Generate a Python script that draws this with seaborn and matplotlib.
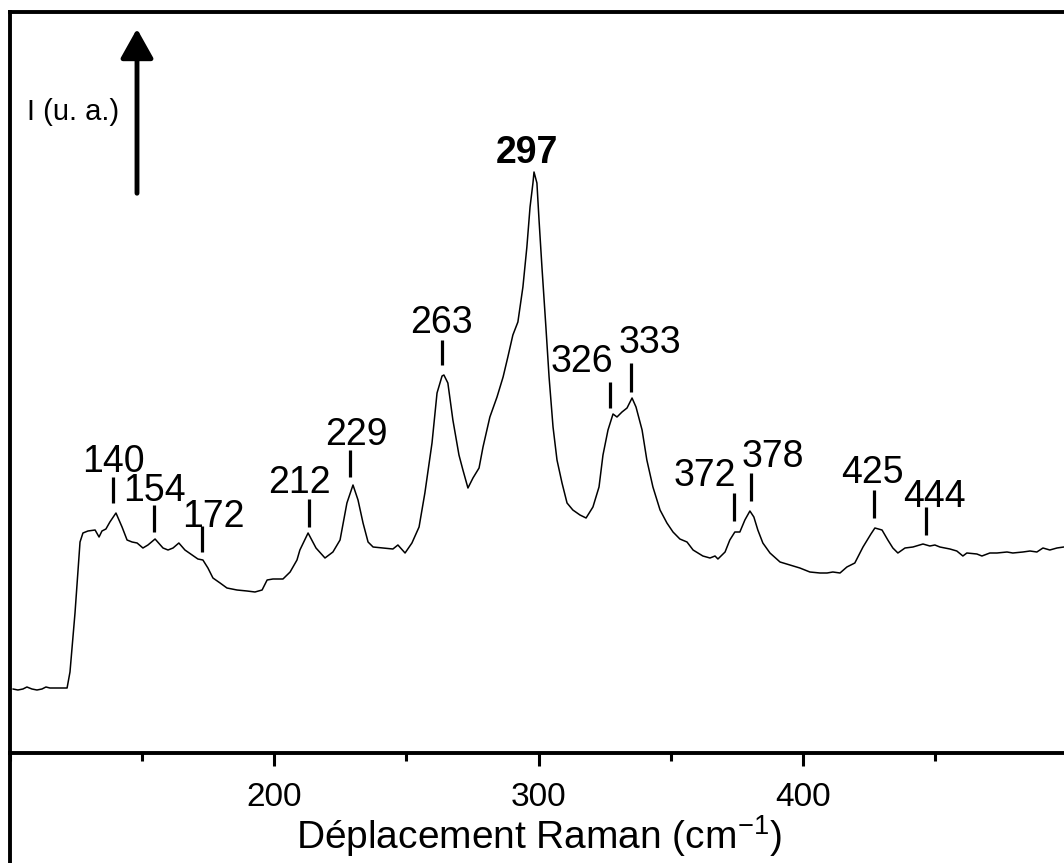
import numpy as np
import pandas as pd
import seaborn as sns
import matplotlib.pyplot as plt
from matplotlib.lines import Line2D

# Raman spectrum (wavenumber in cm-1, intensity in arbitrary units)
wavenumber = [101.1, 103.0, 104.9, 106.4, 108.3, 110.2, 112.1, 113.6, 115.1, 118.2,
              121.6, 122.7, 124.6, 126.5, 127.6, 129.5, 132.2, 133.7, 134.8, 136.3,
              137.8, 140.1, 142.4, 144.3, 146.2, 148.1, 150.3, 152.2, 154.9, 157.9,
              159.8, 161.7, 163.9, 166.2, 168.9, 171.1, 173.0, 174.9, 176.8, 179.5,
              182.1, 185.9, 189.7, 192.7, 195.4, 197.3, 199.5, 203.3, 206.0, 208.6,
              209.7, 212.8, 215.8, 219.2, 222.2, 224.9, 227.5, 229.8, 231.7, 233.6,
              235.5, 237.4, 241.1, 244.9, 246.8, 249.5, 252.1, 254.8, 257.0, 259.7,
              261.6, 263.5, 264.2, 265.7, 267.6, 269.9, 271.4, 273.3, 275.2, 277.5,
              279.0, 281.6, 284.3, 286.6, 288.4, 290.3, 292.2, 294.1, 295.6, 296.8,
              297.9, 298.3, 299.4, 300.2, 301.3, 302.8, 304.0, 305.5, 307.0, 308.9,
              310.8, 313.0, 315.7, 318.0, 320.6, 322.9, 324.4, 326.3, 328.2, 329.7,
              331.6, 333.5, 335.4, 336.9, 339.2, 341.0, 343.3, 346.0, 348.6, 350.9,
              353.5, 356.2, 358.5, 362.2, 364.9, 366.8, 367.9, 370.6, 372.4, 374.3,
              376.2, 378.1, 380.0, 381.5, 383.0, 384.9, 387.6, 391.4, 395.2, 398.9,
              402.7, 406.5, 409.2, 411.4, 414.1, 416.7, 419.7, 422.8, 425.8, 427.3,
              430.0, 432.2, 434.1, 436.0, 438.7, 441.7, 445.5, 448.1, 450.0, 451.9,
              455.7, 458.3, 460.6, 462.1, 465.9, 467.8, 470.8, 473.5, 477.3, 479.5,
              483.3, 486.0, 488.6, 490.9, 493.5, 496.2, 498.8]
intensity = [64, 63, 64, 66, 64, 63, 64, 66, 65, 65,
             65, 81, 140, 211, 220, 222, 223, 216, 222, 224,
             231, 240, 226, 213, 211, 210, 205, 208, 214, 205,
             203, 205, 210, 203, 198, 194, 193, 185, 175, 170,
             165, 163, 162, 161, 163, 173, 174, 174, 181, 193,
             203, 220, 205, 195, 201, 213, 250, 268, 253, 230,
             211, 206, 205, 204, 208, 200, 210, 226, 260, 310,
             360, 377, 378, 370, 333, 298, 283, 265, 275, 285,
             306, 336, 356, 376, 396, 418, 431, 466, 506, 546,
             570, 581, 570, 533, 486, 426, 376, 326, 293, 270,
             250, 243, 238, 235, 246, 266, 298, 323, 339, 336,
             341, 345, 355, 346, 323, 293, 266, 243, 230, 221,
             214, 211, 203, 197, 195, 197, 194, 201, 213, 221,
             221, 233, 242, 236, 223, 210, 200, 191, 188, 185,
             181, 180, 180, 181, 180, 186, 190, 206, 219, 225,
             223, 213, 205, 200, 205, 206, 209, 207, 208, 206,
             204, 202, 197, 200, 199, 197, 200, 200, 201, 200,
             201, 202, 201, 205, 203, 205, 206]

# peak markers: label text, marker position, marker span
peak_labels = ['140', '154', '172', '212', '229', '263', '326', '333', '372', '378', '425', '444']
mark_x = [139.0, 154.5, 172.7, 213.1, 228.7, 263.5, 327.0, 335.0, 374.0, 380.4, 426.9, 446.6]
mark_bottom = [250, 221, 201, 226, 276, 388, 345, 361, 232, 252, 235, 218]
mark_top = [276, 248, 227, 254, 303, 413, 371, 390, 260, 280, 263, 246]
# label centre offsets from the marker top, in pixels
label_dx = [0, 0, 11, -9, 6, -1, -28, 19, -29, 22, -1, 9]
label_dy = [15, 14, 9, 16, 15, 17, 20, 20, 17, 16, 17, 10]

main_peak = '297'
main_peak_x = 295.6
main_peak_y = 600

df = pd.DataFrame({'x': wavenumber, 'y': intensity})

sns.set_style('white')
plt.rcParams['font.family'] = ['Liberation Sans', 'DejaVu Sans']
plt.rcParams['mathtext.fontset'] = 'custom'
plt.rcParams['mathtext.rm'] = 'Liberation Sans'
plt.rcParams['mathtext.it'] = 'Liberation Sans'
plt.rcParams['text.color'] = 'black'
plt.rcParams['axes.labelcolor'] = 'black'
plt.rcParams['xtick.color'] = 'black'

W, H = 1064, 863
fig = plt.figure(figsize=(W / 100, H / 100), dpi=100)
ax = fig.add_axes([10 / W, 110 / H, 1057 / W, 741 / H])

sns.lineplot(data=df, x='x', y='y', ax=ax, color='black', lw=1.1, estimator=None, sort=False)

ax.set_xlim(100, 500)
ax.set_ylim(0, 741)

for s in ax.spines.values():
    s.set_linewidth(2.8)
    s.set_color('black')

ax.set_xticks([200, 300, 400])
ax.set_xticks([100, 150, 250, 350, 450], minor=True)
ax.tick_params(axis='x', which='major', direction='out', length=9, width=2.2,
               labelsize=24, pad=12, bottom=True, colors='black')
ax.tick_params(axis='x', which='minor', direction='out', length=6, width=2.2, bottom=True)
ax.set_yticks([])
ax.set_xlabel('Déplacement Raman (cm$^{-1}$)', fontsize=28, labelpad=0)
ax.set_ylabel('')

# peak markers and labels
ax.vlines(mark_x, mark_bottom, mark_top, color='black', lw=2.3)
for lab, x, top, dx, dy in zip(peak_labels, mark_x, mark_top, label_dx, label_dy):
    ax.annotate(lab, xy=(x, top), xytext=(dx, dy), textcoords='offset pixels',
                ha='center', va='center', fontsize=27)
ax.text(main_peak_x, main_peak_y, main_peak, ha='center', va='center',
        fontsize=27, fontweight='bold')

# intensity arrow
ax.annotate('', xy=(137 / W, 1 - 26 / H), xytext=(137 / W, 1 - 196 / H),
            xycoords='figure fraction', textcoords='figure fraction',
            arrowprops=dict(arrowstyle='-|>,head_length=0.5,head_width=0.28',
                            mutation_scale=36, lw=3.5, color='black'))
fig.text(73 / W, 1 - 112 / H, 'I (u. a.)', ha='center', va='center', fontsize=21)

# frame continues below the x axis
fig.add_artist(Line2D([10 / W, 10 / W], [0, 110 / H], color='black', lw=2.8))

fig.savefig('out.png', dpi=100)
